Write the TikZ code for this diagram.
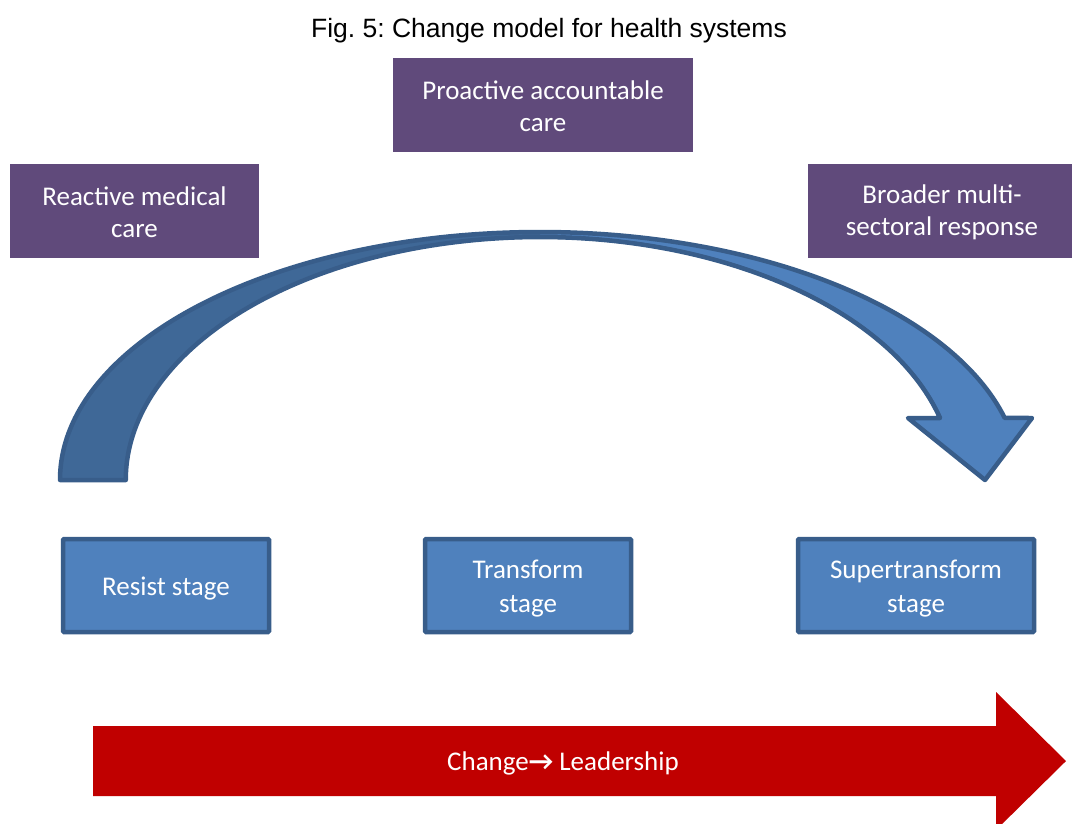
\documentclass[tikz,border=0pt]{standalone}
\usepackage{fontspec}
\setmainfont{Carlito}
\newfontfamily\titlefont{Liberation Sans}
\definecolor{purplebox}{HTML}{604A7B}
\definecolor{bluefill}{HTML}{4F81BD}
\definecolor{blueedge}{HTML}{385D8A}
\definecolor{bluedark}{HTML}{3F6897}
\definecolor{redarrow}{HTML}{C00000}
\tikzset{
  boxtext/.style={text=white, align=center, inner sep=0pt},
  themebox/.style={fill=purplebox, inner sep=0pt},
  themetext/.style={boxtext, yshift=-1.5pt, font=\fontsize{27}{32}\selectfont},
  stagebox/.style={fill=bluefill, draw=blueedge, line width=4.5pt, rounded corners=1pt,
    inner sep=0pt},
  stagetext/.style={boxtext, yshift=-3.5pt, font=\fontsize{27}{34}\selectfont},
  bandline/.style={draw=blueedge, line width=4.5pt, line join=round},
}
\frenchspacing
\begin{document}
\begin{tikzpicture}[x=1pt,y=-1pt]
\useasboundingbox (0,0) rectangle (1073,823);
\clip (0,0) rectangle (1073,823);

% title
\node[anchor=base, font=\titlefont\fontsize{26.5}{30}\selectfont] (title) at (549,37)
  {Fig. 5: Change model for health systems};

% upper (purple) labels
\node[themebox, minimum width=249pt, minimum height=94pt,
  label={[themetext]center:Reactive medical\\care}] (reactive) at (134.5,211) {};
\node[themebox, minimum width=300pt, minimum height=94pt,
  label={[themetext]center:Proactive accountable\\care}] (proactive) at (543,105) {};
\node[themebox, minimum width=264pt, minimum height=94pt,
  label={[themetext, xshift=2pt]center:Broader multi-\\sectoral response}] (broader) at (940,211) {};

% curved arrow from the resist stage over to the supertransform stage
\def\bandpath{(60,480) arc[start angle=180, end angle=345.5, x radius=480, y radius=248]
  -- (1032,418) -- (985,480) -- (908,418) -- (940,418)
  arc[start angle=345.2, end angle=180, x radius=414, y radius=243] -- cycle}
\fill[bluefill] \bandpath;
\begin{scope}
  \clip (0,200) rectangle (540,500);
  \fill[bluedark] \bandpath;
\end{scope}
\begin{scope}
  \clip (520,200) rectangle (1073,500);
  \draw[blueedge, line width=3.5pt]
    (126,480) arc[start angle=180, end angle=345.2, x radius=414, y radius=243];
\end{scope}
\path[bandline] \bandpath;

% stages
\node[stagebox, minimum width=206pt, minimum height=93pt,
  label={[stagetext]center:Resist stage}] (resist) at (166,585.5) {};
\node[stagebox, minimum width=206pt, minimum height=93pt,
  label={[stagetext]center:Transform\\stage}] (transform) at (528,585.5) {};
\node[stagebox, minimum width=236pt, minimum height=93pt,
  label={[stagetext]center:Supertransform\\stage}] (super) at (916,585.5) {};

% leadership arrow
\fill[redarrow] (93,726) -- (996,726) -- (996,692) -- (1066,761) -- (996,830)
  -- (996,796) -- (93,796) -- cycle;
\node[text=white, font=\fontsize{27}{32}\selectfont, anchor=west, inner sep=0pt] (lead) at (447,763)
  {Change{\bfseries\fontsize{27}{32}\selectfont→} Leadership};
\end{tikzpicture}
\end{document}
